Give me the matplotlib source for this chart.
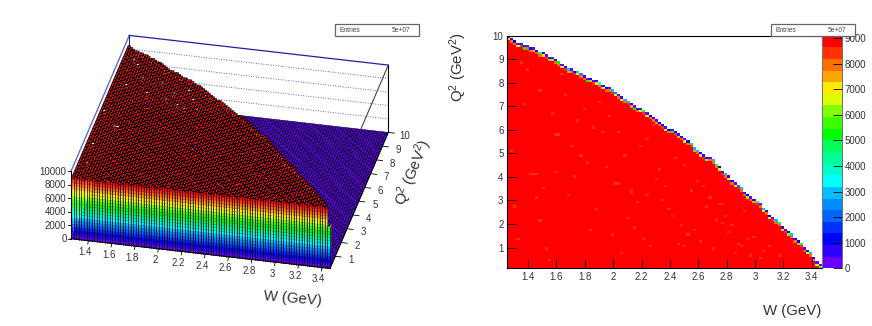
import numpy as np
import matplotlib
matplotlib.use('Agg')
import matplotlib.pyplot as plt
from matplotlib.collections import PolyCollection
from matplotlib.colors import ListedColormap, BoundaryNorm
from matplotlib.patches import Rectangle

plt.rcParams['font.family'] = ['Liberation Sans', 'DejaVu Sans']
plt.rcParams['mathtext.default'] = 'regular'

# axis ranges and ticks
w_range = [1.252, 3.47]
q_range = [0.12, 10.0]
z_top = 10000
w_ticks = [1.4, 1.6, 1.8, 2, 2.2, 2.4, 2.6, 2.8, 3, 3.2, 3.4]
w_labels = ['1.4', '1.6', '1.8', '2', '2.2', '2.4', '2.6', '2.8', '3', '3.2', '3.4']
q_ticks = [1, 2, 3, 4, 5, 6, 7, 8, 9, 10]
z_ticks = [0, 2000, 4000, 6000, 8000, 10000]
cbar_ticks = [0, 1000, 2000, 3000, 4000, 5000, 6000, 7000, 8000, 9000]
entries = '5e+07'

# palette, bottom band first
band_colors = ['#6a00ff', '#3200ff', '#0000ff', '#0032ff', '#0064ff', '#008cff', '#00beff',
               '#00ffff', '#00ffc8', '#00ff96', '#00ff5a', '#00ff00', '#3cff00', '#82ff00',
               '#dcff00', '#ffeb00', '#ffa500', '#ff6e00', '#ff3200', '#ff0000']
z_max = 9100

# filled rows per W bin
filled_rows = [100, 99, 98, 97, 97, 96, 96, 95, 95, 94,
               93, 93, 92, 91, 91, 90, 89, 88, 87, 86,
               86, 85, 85, 84, 83, 82, 82, 81, 81, 80,
               79, 78, 78, 77, 76, 75, 74, 73, 72, 71,
               70, 69, 69, 68, 67, 66, 65, 64, 63, 62,
               61, 60, 60, 59, 58, 57, 56, 55, 54, 52,
               51, 50, 49, 48, 48, 47, 45, 44, 42, 41,
               40, 38, 37, 36, 35, 33, 32, 31, 30, 29,
               28, 26, 25, 23, 22, 21, 20, 18, 17, 16,
               15, 13, 12, 11, 9, 8, 7, 5, 3, 2]

# content of the last filled cell in each W bin
edge_top = [300, 500, 1200, 400, 1500, 900, 400, 1000, 300, 700,
            5000, 900, 300, 1500, 400, 800, 5200, 400, 900, 2800,
            300, 1000, 3000, 2600, 700, 400, 1100, 300, 900, 3200,
            500, 1200, 300, 2900, 2400, 400, 700, 3000, 2800, 600,
            300, 900, 400, 5000, 300, 1000, 700, 300, 1300, 900,
            1500, 1200, 400, 800, 1500, 900, 400, 1100, 5200, 2900,
            3000, 900, 500, 1200, 300, 3000, 5000, 1000, 500, 2800,
            800, 1100, 400, 2200, 3000, 500, 1200, 300, 900, 5000,
            400, 3000, 500, 1200, 300, 2900, 5000, 900, 400, 1300,
            3000, 700, 1200, 5000, 400, 900, 2800, 1000, 300, 1400]
# content of the cell just below it
edge_second = [7000, 7800, 8000, 6500, 8200, 5200, 8100, 7800, 7300, 8000,
               8100, 7000, 8200, 7700, 6000, 8100, 8000, 6800, 8200, 7300,
               7800, 8200, 7000, 8000, 8100, 5400, 7700, 8200, 7000, 8000,
               7200, 8100, 7800, 8200, 6500, 8000, 7000, 8100, 8200, 7400,
               5200, 8000, 7000, 8200, 6800, 8100, 7900, 7300, 8100, 8200,
               7000, 8000, 5300, 8200, 7600, 8100, 7000, 8000, 8200, 7500,
               8100, 7000, 8200, 6000, 8000, 7800, 8100, 7200, 8200, 8000,
               6500, 8100, 7000, 8200, 7800, 8000, 6200, 8100, 7300, 8200,
               8000, 7000, 8100, 6500, 8200, 7800, 8000, 7100, 8200, 6000,
               8100, 8000, 7300, 8200, 7900, 6400, 8100, 8000, 7000, 6200]

# cells a band lower than the rest of the plateau
dark_cols = [15, 16, 8, 9, 7, 15, 34, 35, 39, 39, 9, 10, 59, 45, 3, 5, 14, 20, 25, 28,
             22, 12, 30, 33, 41, 47, 52, 56, 61, 64, 68, 72, 75, 78, 83, 86, 2, 6, 18, 24,
             37, 44, 50, 55, 63, 70, 74, 81, 11, 17, 27, 31, 38, 43, 49, 53, 58, 66, 4, 13,
             21, 26, 32, 36, 42, 48, 54, 60, 67, 71, 76, 80, 1, 19, 29, 40, 46, 51, 57, 62,
             65, 69, 73, 77, 10, 23, 35, 44, 56, 68]
dark_rows = [57, 57, 40, 40, 40, 41, 36, 36, 32, 33, 30, 20, 16, 9, 12, 70, 66, 52, 45, 25,
             63, 8, 58, 14, 28, 38, 22, 44, 11, 30, 19, 6, 24, 13, 9, 5, 26, 85, 74, 68,
             48, 55, 35, 18, 26, 15, 9, 7, 34, 83, 60, 43, 21, 12, 29, 47, 33, 20, 88, 3,
             39, 16, 65, 6, 52, 42, 10, 37, 27, 18, 12, 4, 50, 31, 71, 17, 61, 25, 14, 35,
             8, 22, 10, 5, 76, 48, 58, 31, 9, 27]

# value of the front row
front_values = [8950, 8900, 9000, 8950, 8850, 8900, 9000, 8850, 8950, 8900,
                8950, 9000, 8900, 8850, 8950, 9000, 8900, 8950, 8850, 8900,
                9000, 8950, 8900, 8850, 8950, 8900, 9000, 8950, 8850, 8900,
                8950, 9000, 8900, 8950, 8850, 8950, 9000, 8900, 8950, 8850,
                8900, 9000, 8950, 8900, 8850, 8950, 9000, 8900, 8950, 8850,
                8900, 9000, 8950, 8850, 8900, 8950, 9000, 8900, 8850, 8950,
                8900, 9000, 8950, 8850, 8900, 8950, 9000, 8900, 8950, 8850,
                8900, 9000, 8950, 8900, 8850, 8950, 9000, 8900, 8950, 8850,
                8900, 9000, 8950, 8850, 8900, 8950, 9000, 8900, 8850, 8950,
                8900, 9000, 8950, 8850, 8900, 8950, 9000, 8900, 8850, 6200]

nbins = 100
w_edges = np.linspace(w_range[0], w_range[1], nbins + 1)
q_edges = np.linspace(q_range[0], q_range[1], nbins + 1)
levels = np.linspace(0, z_max, len(band_colors) + 1)
cmap = ListedColormap(band_colors)
norm = BoundaryNorm(levels, cmap.N)

# H[row, col]
H = np.zeros((nbins, nbins))
for c in range(nbins):
    H[:filled_rows[c], c] = 8900
    H[0, c] = front_values[c]
for c, r in zip(dark_cols, dark_rows):
    if r < filled_rows[c] - 2:
        H[r, c] = 8400
for c in range(nbins):
    if filled_rows[c] > 2:
        H[filled_rows[c] - 2, c] = edge_second[c]
    H[filled_rows[c] - 1, c] = edge_top[c]
H[0, 99] = 6200

fig = plt.figure(figsize=(8.72, 3.26), dpi=100)
FW, FH = 872.0, 326.0
text_c = '#333333'


def place(x0, y0, x1, y1):
    return fig.add_axes([x0 / FW, 1 - y1 / FH, (x1 - x0) / FW, (y1 - y0) / FH])


# left: lego view, drawn with an oblique projection
ax3 = fig.add_axes([0, 0, 1, 1])
ax3.set_xlim(0, FW)
ax3.set_ylim(FH, 0)
ax3.axis('off')


def project(w, q, z):
    u = (np.asarray(w, float) - w_range[0]) / (w_range[1] - w_range[0])
    v = (np.asarray(q, float) - q_range[0]) / (q_range[1] - q_range[0])
    return 71 + 259 * u + 58.3 * v, 238.7 + 29.7 * u - 136 * v - 67.3 * np.asarray(z, float) / z_top


def line3(p0, p1, **kw):
    x, y = project([p0[0], p1[0]], [p0[1], p1[1]], [p0[2], p1[2]])
    ax3.plot(x, y, **kw)


def cell(r, c, z, shrink=1.0):
    # corners of one bin at height z; the black cell outline is what is left around the shrunken fill
    wm, qm = (w_edges[c] + w_edges[c + 1]) / 2, (q_edges[r] + q_edges[r + 1]) / 2
    ws = wm + (np.array([w_edges[c], w_edges[c + 1], w_edges[c + 1], w_edges[c]]) - wm) * shrink
    qs = qm + (np.array([q_edges[r], q_edges[r], q_edges[r + 1], q_edges[r + 1]]) - qm) * shrink
    x, y = project(ws, qs, [z] * 4)
    return np.column_stack([x, y])


w0, w1 = w_range
q0, q1 = q_range
# back wall
for z in [2000, 4000, 6000, 8000]:
    line3((w0, q1, z), (w1, q1, z), color='#3030b0', lw=0.6, ls=(0, (1, 2)), zorder=1)
line3((w0, q1, z_top), (w1, q1, z_top), color='#2020a0', lw=0.9, zorder=1)
line3((w0, q0, z_top), (w0, q1, z_top), color='#5a5ad0', lw=0.9, zorder=1)
line3((w0, q1, 8000), (w0, q1, z_top), color='#2020a0', lw=0.8, zorder=1)
line3((w1, q1, 0), (w1, q1, z_top), color='black', lw=0.8, zorder=1)
line3((w1, q0, z_top), (w1, q1, z_top), color='#444444', lw=0.8, zorder=1)

# floor and plateau cells, low edge bins stay hidden behind the plateau
floor, floor_in, tops, tops_in, top_cols = [], [], [], [], []
for r in range(nbins - 1, -1, -1):
    for c in range(nbins):
        floor.append(cell(r, c, 0))
        floor_in.append(cell(r, c, 0, 0.1))
        if H[r, c] >= 8000:
            tops.append(cell(r, c, H[r, c]))
            tops_in.append(cell(r, c, H[r, c], 0.05))
            top_cols.append(cmap(norm(H[r, c])))
ax3.add_collection(PolyCollection(floor, facecolors='#1a0050', edgecolors='#1a0050',
                                  linewidths=0.3, zorder=2))
ax3.add_collection(PolyCollection(floor_in, facecolors='#5a00e0', edgecolors='none',
                                  antialiaseds=False, zorder=2.1))
ax3.add_collection(PolyCollection(tops, facecolors='#140000', edgecolors='#140000',
                                  linewidths=0.3, zorder=3))
ax3.add_collection(PolyCollection(tops_in, facecolors=top_cols, edgecolors='none',
                                  antialiaseds=False, zorder=3.1))

# front faces in colour bands
faces, face_cols = [], []
for c in range(nbins):
    for b in range(len(band_colors)):
        lo, hi = levels[b], min(levels[b + 1], H[0, c])
        if hi > lo:
            x, y = project([w_edges[c], w_edges[c + 1], w_edges[c + 1], w_edges[c]],
                           [q0] * 4, [lo, lo, hi, hi])
            faces.append(np.column_stack([x, y]))
            face_cols.append(band_colors[b])
# right side of the last bin
for b in range(len(band_colors)):
    lo, hi = levels[b], min(levels[b + 1], H[0, 99])
    if hi > lo:
        x, y = project([w1] * 4, [q_edges[0], q_edges[2], q_edges[2], q_edges[0]], [lo, lo, hi, hi])
        faces.append(np.column_stack([x, y]))
        face_cols.append(band_colors[b])
ax3.add_collection(PolyCollection(faces, facecolors=face_cols, edgecolors='none', zorder=4))
for c in range(nbins + 1):
    x, y = project([w_edges[c]] * 2, [q0] * 2, [0, H[0, min(c, 99)]])
    ax3.plot(x, y, color='black', lw=0.5, zorder=5)

# axes of the lego view
line3((w0, q0, 0), (w1, q0, 0), color='black', lw=0.8, zorder=6)
line3((w1, q0, 0), (w1, q1, 0), color='black', lw=0.8, zorder=6)
line3((w0, q0, 0), (w0, q0, z_top), color='black', lw=0.8, zorder=6)
for w, lab in zip(w_ticks, w_labels):
    x, y = project(w, q0, 0)
    ax3.plot([x, x - 0.5], [y, y + 3.5], color='black', lw=0.6, zorder=6)
    ax3.text(x - 3, y + 11.5, lab, ha='center', va='center', fontsize=7, color=text_c)
for q in q_ticks:
    x, y = project(w1, q, 0)
    ax3.plot([x, x + 6], [y, y + 0.7], color='black', lw=0.6, zorder=6)
    ax3.text(x + 16, y + 3.7, str(q), ha='center', va='center', fontsize=7, color=text_c)
for z in z_ticks:
    x, y = project(w0, q0, z)
    ax3.plot([x - 3, x], [y, y], color='black', lw=0.6, zorder=6)
    ax3.text(x - 4.5, y + 0.3, str(z), ha='right', va='center', fontsize=7, color=text_c)
ax3.text(293, 299, 'W (GeV)', rotation=-5, ha='center', va='center', fontsize=10.8, color=text_c)
ax3.text(413, 173, 'Q$^{2}$ (GeV$^{2}$)', rotation=68, ha='center', va='center',
         fontsize=10.8, color=text_c)

# right: colour map
ax = place(507, 35.7, 821.7, 268.3)
ax.pcolormesh(w_edges, q_edges, np.ma.masked_equal(H, 0), cmap=cmap, norm=norm)
ax.set_xlim(w_range)
ax.set_ylim(q_range)
ax.set_xticks(w_ticks)
ax.set_xticklabels(w_labels)
ax.set_yticks(q_ticks)
ax.tick_params(direction='in', length=6.7, width=0.6, labelsize=7, labelcolor=text_c, pad=2.5)
ax.spines['right'].set_color('#777777')
for s in ax.spines.values():
    s.set_linewidth(0.8)
fig.text(792 / FW, 1 - 311 / FH, 'W (GeV)', ha='center', va='center', fontsize=10.8, color=text_c)
fig.text(458 / FW, 1 - 67 / FH, 'Q$^{2}$ (GeV$^{2}$)', rotation=90, ha='center', va='center',
         fontsize=10.8, color=text_c)

# colour bar
cax = place(823.3, 35.7, 842.3, 268.3)
cax.pcolormesh([0, 1], levels, np.arange(len(band_colors)).reshape(-1, 1), cmap=cmap,
               vmin=-0.5, vmax=len(band_colors) - 0.5)
cax.set_xticks([])
cax.set_ylim(0, z_max)
cax.yaxis.tick_right()
cax.set_yticks(cbar_ticks)
cax.tick_params(direction='in', length=6.7, width=0.6, labelsize=7, labelcolor=text_c, pad=1.5)
for name, s in cax.spines.items():
    s.set_visible(name == 'right')
    s.set_linewidth(0.6)
    s.set_color('#555555')

# stat boxes
for x0 in [335, 771]:
    fig.add_artist(Rectangle((x0 / FW, 1 - 36 / FH), 84 / FW, 12 / FH, transform=fig.transFigure,
                             facecolor='white', edgecolor='#666666', lw=0.9, zorder=10))
    fig.text((x0 + 4) / FW, 1 - 30.3 / FH, 'Entries', ha='left', va='center', fontsize=4.8,
             color='#444444', zorder=11)
    fig.text((x0 + 75) / FW, 1 - 30.3 / FH, entries, ha='right', va='center', fontsize=4.8,
             color='#444444', zorder=11)

fig.savefig('out.png', dpi=100)
